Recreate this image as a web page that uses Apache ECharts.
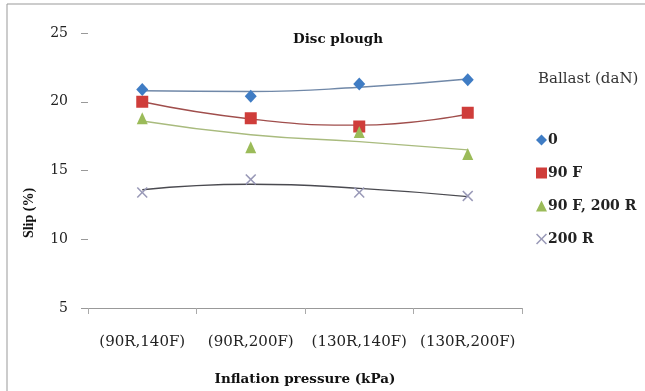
<!DOCTYPE html>
<html>
<head>
<meta charset="utf-8">
<script src="https://cdn.jsdelivr.net/npm/echarts@6/dist/echarts.min.js"></script>
<style>
  html, body { margin: 0; padding: 0; background: #fff; }
  #chart { width: 645px; height: 391px; }
</style>
</head>
<body>
<div id="chart"></div>
<script>
// categories on the x axis
var pressures = ['(90R,140F)', '(90R,200F)', '(130R,140F)', '(130R,200F)'];
var yTicks = [5, 10, 15, 20, 25];

// measured slip (%) per ballast
var slip0 = [20.9, 20.4, 21.3, 21.6];
var slip90F = [20.0, 18.8, 18.2, 19.2];
var slip90F200R = [18.8, 16.7, 17.8, 16.2];
var slip200R = [13.4, 14.35, 13.4, 13.15];

// trend lines
var trend0 = [20.8, 20.75, 21.05, 21.65];
var trend90F = [20.0, 18.75, 18.3, 19.1];
var trend90F200R = [18.6, 17.6, 17.1, 16.5];
var trend200R = [13.6, 14.0, 13.7, 13.1];

var crossPath = 'path://M0,1 L1,0 L5,4 L9,0 L10,1 L6,5 L10,9 L9,10 L5,6 L1,10 L0,9 L4,5 Z';
var serif = 'DejaVu Serif';

var chart = echarts.init(document.getElementById('chart'));

function marks(name, data, symbol, size, color) {
    return {
        name: name,
        type: 'scatter',
        data: data,
        symbol: symbol,
        symbolSize: size,
        itemStyle: { color: color, opacity: 1 },
        z: 3
    };
}

function trend(data, color) {
    return {
        name: 'trend',
        type: 'line',
        data: data,
        smooth: true,
        showSymbol: false,
        silent: true,
        lineStyle: { color: color, width: 1.4 },
        z: 2
    };
}

var option = {
    animation: false,
    backgroundColor: '#fff',
    title: [
        {
            text: 'Disc plough',
            left: 333, top: 27,
            textAlign: 'center',
            textStyle: { fontFamily: serif, fontSize: 13.5, fontWeight: 'bold', color: '#111' }
        },
        {
            text: 'Ballast (daN)',
            left: 533, top: 67,
            textStyle: { fontFamily: serif, fontSize: 15, fontWeight: 'normal', color: '#333' }
        }
    ],
    legend: {
        orient: 'vertical',
        left: 531, top: 128,
        itemWidth: 11, itemHeight: 11,
        itemGap: 19,
        data: ['0', '90 F', '90 F, 200 R', '200 R'],
        textStyle: { fontFamily: serif, fontSize: 14, fontWeight: 'bold', color: '#222', padding: [0, 0, 0, -4] }
    },
    grid: { left: 88, right: 123, top: 33, bottom: 79 },
    xAxis: {
        type: 'category',
        data: pressures,
        boundaryGap: true,
        name: 'Inflation pressure (kPa)',
        nameLocation: 'middle',
        nameGap: 64,
        nameTextStyle: { fontFamily: serif, fontSize: 13.5, fontWeight: 'bold', color: '#111' },
        axisLine: { lineStyle: { color: '#999', width: 1.2 } },
        axisTick: { show: true, length: 6, lineStyle: { color: '#aaa' } },
        axisLabel: { fontFamily: serif, fontSize: 15, color: '#222', margin: 27, interval: 0 }
    },
    yAxis: {
        type: 'value',
        min: yTicks[0],
        max: yTicks[yTicks.length - 1],
        interval: 5,
        axisLine: { show: false },
        axisTick: { show: true, length: 7, lineStyle: { color: '#999' } },
        splitLine: { show: false },
        axisLabel: { fontFamily: serif, fontSize: 14, color: '#222', margin: 20 }
    },
    graphic: [
        { type: 'line', shape: { x1: 7, y1: 4, x2: 645, y2: 4 }, style: { stroke: '#999', lineWidth: 1 } },
        { type: 'line', shape: { x1: 7, y1: 4, x2: 7, y2: 391 }, style: { stroke: '#999', lineWidth: 1 } },
        {
            type: 'text', x: 29, y: 213, rotation: Math.PI / 2,
            style: {
                text: 'Slip (%)', textAlign: 'center', textVerticalAlign: 'middle',
                font: 'bold 14px "Liberation Serif"', fill: '#111'
            }
        }
    ],
    series: [
        trend(trend0, '#7088a8'),
        trend(trend90F, '#a04e4c'),
        trend(trend90F200R, '#a9bb7e'),
        trend(trend200R, '#4a4a50'),
        marks('0', slip0, 'diamond', [12, 13], '#3f7cc4'),
        marks('90 F', slip90F, 'rect', 12, '#cf3d3a'),
        marks('90 F, 200 R', slip90F200R, 'triangle', [11, 12], '#9bbb59'),
        marks('200 R', slip200R, crossPath, 11, '#9a9ab8')
    ]
};

chart.setOption(option);
</script>
</body>
</html>
